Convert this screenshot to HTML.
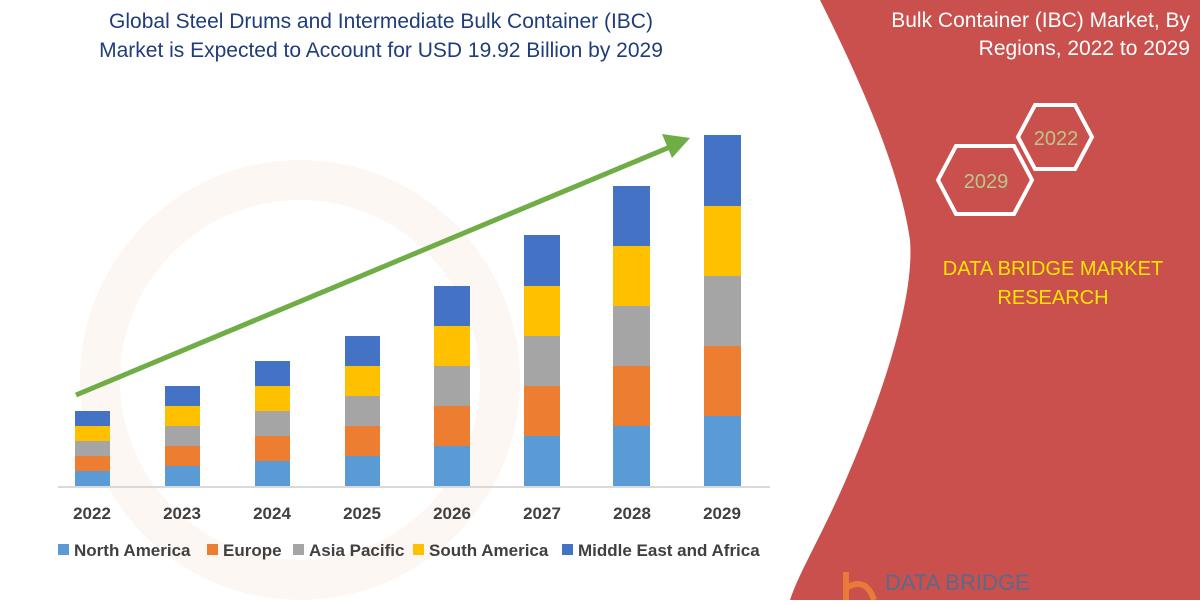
<!DOCTYPE html>
<html><head><meta charset="utf-8"><style>
body{margin:0;width:1200px;height:600px;overflow:hidden;background:#fff;font-family:"Liberation Sans",sans-serif}
</style></head><body>
<svg width="1200" height="600" viewBox="0 0 1200 600" xmlns="http://www.w3.org/2000/svg" font-family="Liberation Sans, sans-serif">
<rect width="1200" height="600" fill="#fff"/>
<ellipse cx="300" cy="380" rx="200" ry="200" fill="none" stroke="#fdf7f4" stroke-width="40"/>
<path d="M820 0 C860 80 900 170 910 240 C915 300 880 400 850 470 C825 530 800 570 790 600 L1200 600 L1200 0 Z" fill="#c9504c"/>
<text x="1190" y="27" font-size="21" fill="#fff" text-anchor="end">Bulk Container (IBC) Market, By</text>
<text x="1190" y="55" font-size="21" fill="#fff" text-anchor="end">Regions, 2022 to 2029</text>
<polygon points="1018,137 1035,105 1075,105 1092,137 1075,169 1035,169" fill="none" stroke="#fff" stroke-width="4"/>
<polygon points="938,180 956,146 1014,146 1032,180 1014,214 956,214" fill="none" stroke="#fff" stroke-width="4"/>
<text x="1056" y="145" font-size="20" fill="#b9c78a" text-anchor="middle">2022</text>
<text x="986" y="188" font-size="20" fill="#b9c78a" text-anchor="middle">2029</text>
<text x="1053" y="275" font-size="20" fill="#ffe600" text-anchor="middle">DATA BRIDGE MARKET</text>
<text x="1053" y="304" font-size="20" fill="#ffe600" text-anchor="middle">RESEARCH</text>
<text x="885" y="590" font-size="22" fill="#5a6a8a">DATA BRIDGE</text>
<path d="M846 572 L846 600 M846 588 Q866 576 874 600" stroke="#e87a3a" stroke-width="6" fill="none"/>
<text x="381" y="28" font-size="21" fill="#1f3d7a" text-anchor="middle">Global Steel Drums and Intermediate Bulk Container (IBC)</text>
<text x="381" y="57" font-size="21" fill="#1f3d7a" text-anchor="middle">Market is Expected to Account for USD 19.92 Billion by 2029</text>
<line x1="58" y1="487" x2="770" y2="487" stroke="#d9d9d9" stroke-width="2"/>
<line x1="76" y1="395" x2="670" y2="147" stroke="#70ad47" stroke-width="5"/>
<polygon points="690,138 662,134 672,158" fill="#70ad47"/>
<g font-size="17" font-weight="bold" fill="#404040" text-anchor="middle">
<text x="92" y="519">2022</text><text x="182" y="519">2023</text><text x="272" y="519">2024</text><text x="362" y="519">2025</text><text x="452" y="519">2026</text><text x="542" y="519">2027</text><text x="632" y="519">2028</text><text x="722" y="519">2029</text>
</g>
<g font-size="17" font-weight="bold" fill="#404040">
<rect x="58" y="544" width="11" height="11" fill="#5b9bd5"/><text x="74" y="556">North America</text>
<rect x="207" y="544" width="11" height="11" fill="#ed7d31"/><text x="223" y="556">Europe</text>
<rect x="293" y="544" width="11" height="11" fill="#a5a5a5"/><text x="309" y="556">Asia Pacific</text>
<rect x="413" y="544" width="11" height="11" fill="#ffc000"/><text x="429" y="556">South America</text>
<rect x="562" y="544" width="11" height="11" fill="#4472c4"/><text x="578" y="556">Middle East and Africa</text>
</g>
<g>
<rect x="75" y="471" width="35" height="15" fill="#5b9bd5"/><rect x="75" y="456" width="35" height="15" fill="#ed7d31"/><rect x="75" y="441" width="35" height="15" fill="#a5a5a5"/><rect x="75" y="426" width="35" height="15" fill="#ffc000"/><rect x="75" y="411" width="35" height="15" fill="#4472c4"/>
<rect x="165" y="466" width="35" height="20" fill="#5b9bd5"/><rect x="165" y="446" width="35" height="20" fill="#ed7d31"/><rect x="165" y="426" width="35" height="20" fill="#a5a5a5"/><rect x="165" y="406" width="35" height="20" fill="#ffc000"/><rect x="165" y="386" width="35" height="20" fill="#4472c4"/>
<rect x="255" y="461" width="35" height="25" fill="#5b9bd5"/><rect x="255" y="436" width="35" height="25" fill="#ed7d31"/><rect x="255" y="411" width="35" height="25" fill="#a5a5a5"/><rect x="255" y="386" width="35" height="25" fill="#ffc000"/><rect x="255" y="361" width="35" height="25" fill="#4472c4"/>
<rect x="345" y="456" width="35" height="30" fill="#5b9bd5"/><rect x="345" y="426" width="35" height="30" fill="#ed7d31"/><rect x="345" y="396" width="35" height="30" fill="#a5a5a5"/><rect x="345" y="366" width="35" height="30" fill="#ffc000"/><rect x="345" y="336" width="35" height="30" fill="#4472c4"/>
<rect x="434" y="446" width="36" height="40" fill="#5b9bd5"/><rect x="434" y="406" width="36" height="40" fill="#ed7d31"/><rect x="434" y="366" width="36" height="40" fill="#a5a5a5"/><rect x="434" y="326" width="36" height="40" fill="#ffc000"/><rect x="434" y="286" width="36" height="40" fill="#4472c4"/>
<rect x="524" y="436" width="36" height="50" fill="#5b9bd5"/><rect x="524" y="386" width="36" height="50" fill="#ed7d31"/><rect x="524" y="336" width="36" height="50" fill="#a5a5a5"/><rect x="524" y="286" width="36" height="50" fill="#ffc000"/><rect x="524" y="235" width="36" height="51" fill="#4472c4"/>
<rect x="613" y="426" width="37" height="60" fill="#5b9bd5"/><rect x="613" y="366" width="37" height="60" fill="#ed7d31"/><rect x="613" y="306" width="37" height="60" fill="#a5a5a5"/><rect x="613" y="246" width="37" height="60" fill="#ffc000"/><rect x="613" y="186" width="37" height="60" fill="#4472c4"/>
<rect x="704" y="416" width="37" height="70" fill="#5b9bd5"/><rect x="704" y="346" width="37" height="70" fill="#ed7d31"/><rect x="704" y="276" width="37" height="70" fill="#a5a5a5"/><rect x="704" y="206" width="37" height="70" fill="#ffc000"/><rect x="704" y="135" width="37" height="71" fill="#4472c4"/>
</g>
</svg>
</body></html>
